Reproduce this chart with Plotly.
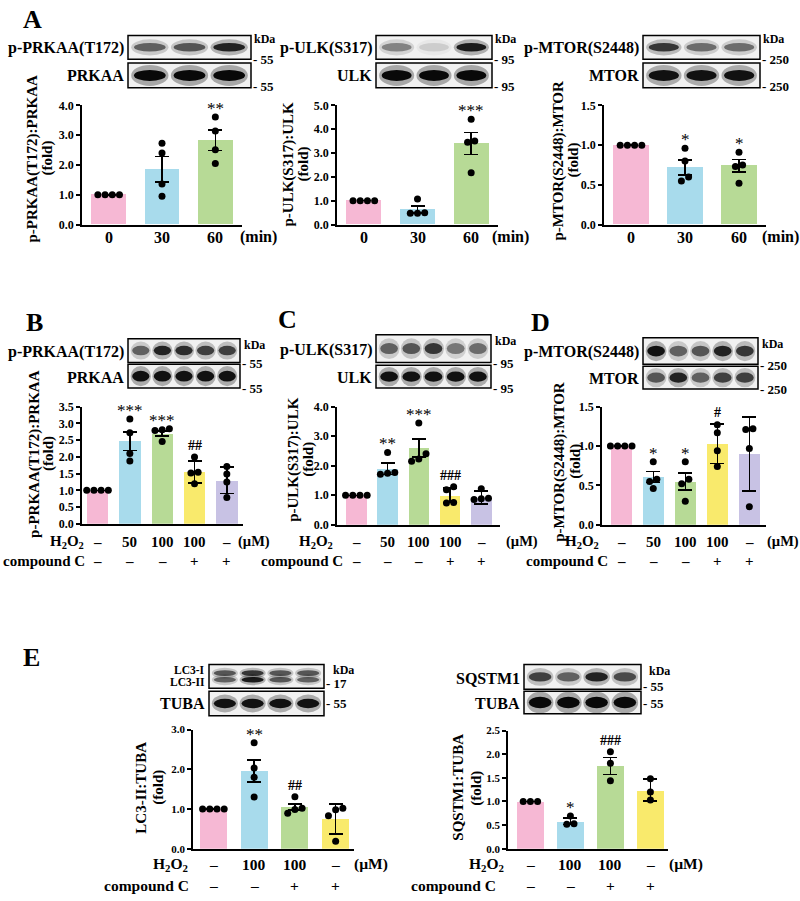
import plotly.graph_objects as go

# ---------------- data ----------------
time_labels = ["0", "30", "60"]
h2o2_BCD = ["–", "50", "100", "100", "–"]
compc_BCD = ["–", "–", "–", "+", "+"]
h2o2_E = ["–", "100", "100", "–"]
compc_E = ["–", "–", "+", "+"]

A1_bar = [1.00, 1.86, 2.83]
A1_err = [0.00, 0.43, 0.34]
A1_pts = [[1.0, 1.0, 1.0, 1.0], [2.73, 2.40, 1.36, 0.95], [3.61, 3.14, 2.51, 2.05]]
A1_sig = ["", "", "**"]

A2_bar = [1.00, 0.63, 3.40]
A2_err = [0.00, 0.14, 0.46]
A2_pts = [[1.0, 1.0, 1.0, 1.0], [1.07, 0.50, 0.48, 0.47], [4.42, 3.51, 3.46, 2.18]]
A2_sig = ["", "", "***"]

A3_bar = [1.00, 0.72, 0.74]
A3_err = [0.00, 0.095, 0.08]
A3_pts = [[1.0, 1.0, 1.0, 1.0], [0.96, 0.80, 0.60, 0.55], [0.91, 0.75, 0.73, 0.52]]
A3_sig = ["", "*", "*"]

B_bar = [1.00, 2.47, 2.70, 1.55, 1.30]
B_err = [0.00, 0.28, 0.08, 0.33, 0.40]
B_pts = [[1.0, 1.0, 1.0, 1.0], [3.13, 2.72, 2.10, 1.88], [2.84, 2.81, 2.79, 2.46],
         [2.00, 1.54, 1.52, 1.20], [1.71, 1.49, 1.25, 0.79]]
B_sig = ["", "***", "***", "##", ""]

C_bar = [1.00, 1.90, 2.60, 1.00, 0.93]
C_err = [0.00, 0.20, 0.31, 0.25, 0.22]
C_pts = [[1.0, 1.0, 1.0, 1.0], [2.45, 1.77, 1.75, 1.71], [3.45, 2.41, 2.23, 2.15],
         [1.29, 1.19, 0.76, 0.74], [1.22, 0.90, 0.88, 0.86]]
C_sig = ["", "**", "***", "###", ""]

D_bar = [1.00, 0.61, 0.55, 1.03, 0.90]
D_err = [0.00, 0.07, 0.11, 0.25, 0.47]
D_pts = [[1.0, 1.0, 1.0, 1.0], [0.80, 0.58, 0.55, 0.46], [0.80, 0.58, 0.52, 0.30],
         [1.27, 1.17, 0.94, 0.74], [1.22, 1.21, 0.97, 0.23]]
D_sig = ["", "*", "*", "#", ""]

E1_bar = [1.00, 1.96, 1.05, 0.75]
E1_err = [0.00, 0.28, 0.08, 0.38]
E1_pts = [[1.0, 1.0, 1.0, 1.0], [2.67, 2.03, 1.80, 1.30], [1.31, 1.02, 0.99, 0.89],
          [0.98, 0.83, 1.02, 0.19]]
E1_sig = ["", "**", "##", ""]

E2_bar = [1.00, 0.58, 1.75, 1.24]
E2_err = [0.00, 0.07, 0.18, 0.23]
E2_pts = [[1.0, 1.0, 1.0], [0.69, 0.52, 0.53], [2.05, 1.81, 1.44], [1.48, 1.20, 1.03]]
E2_sig = ["", "*", "###", ""]

# blot band intensities (0 = no band, 1 = saturated)
A1_blot = [[0.55, 0.60, 0.85], [1.0, 1.0, 1.0]]
A2_blot = [[0.40, 0.12, 0.90], [1.0, 1.0, 1.0]]
A3_blot = [[0.75, 0.50, 0.50], [0.95, 0.95, 0.95]]
B_blot = [[0.55, 0.85, 0.80, 0.70, 0.70], [0.95, 0.95, 0.95, 0.95, 0.95]]
C_blot = [[0.55, 0.60, 0.75, 0.45, 0.50], [0.95, 0.95, 0.95, 0.95, 0.95]]
D_blot = [[0.95, 0.55, 0.60, 0.85, 0.75], [0.60, 0.85, 0.55, 0.70, 0.70]]
E1_blot_I = [0.60, 0.75, 0.60, 0.60]
E1_blot_II = [0.55, 0.90, 0.60, 0.55]
E1_blot_T = [0.95, 0.95, 0.95, 0.95]
E2_blot = [[0.70, 0.55, 0.85, 0.65], [1.0, 1.0, 1.0, 1.0]]

COLORS = ["#F6B8D4", "#A8DBEC", "#B7DA96", "#F9EA6C", "#C8C2E4"]

# ---------------- layout helpers ----------------
W, H = 800, 901
FONT = "Liberation Serif"


def px(x):
    return x / W


def py(y):
    return 1 - y / H


fig = go.Figure()
annotations = []
shapes = []


def text(x, y, s, size=15, xanchor="center", yanchor="middle", angle=0):
    annotations.append(dict(x=px(x), y=py(y), xref="paper", yref="paper", text=s,
                            showarrow=False, xanchor=xanchor, yanchor=yanchor,
                            textangle=angle, borderpad=0,
                            font=dict(family=FONT, size=size, color="black", weight=700)))


def swarm(vals, ppu_y, ppu_x, sp):
    order = sorted(range(len(vals)), key=lambda i: vals[i])
    clusters, cur = [], [order[0]]
    for i in order[1:]:
        if abs(vals[i] - vals[cur[-1]]) * ppu_y < sp:
            cur.append(i)
        else:
            clusters.append(cur)
            cur = [i]
    clusters.append(cur)
    offs = [0.0] * len(vals)
    for c in clusters:
        k = len(c)
        for j, i in enumerate(c):
            offs[i] = (j - (k - 1) / 2) * sp / ppu_x
    return offs


def chart(n, box, xr, ymax, dtick, bars, err, pts, sig, colors, barw=0.66, tick_size=12):
    x0, x1, yt, yb = box
    xa, ya = ("xaxis%d" % n if n > 1 else "xaxis"), ("yaxis%d" % n if n > 1 else "yaxis")
    xref, yref = ("x%d" % n if n > 1 else "x"), ("y%d" % n if n > 1 else "y")
    cats = list(range(len(bars)))
    fig.add_trace(go.Bar(x=cats, y=bars, width=barw, marker=dict(color=colors[:len(bars)], line=dict(width=0)),
                         error_y=dict(type="data", array=err, symmetric=True, color="black",
                                      thickness=1.5, width=7),
                         xaxis=xref, yaxis=yref, showlegend=False, hoverinfo="skip"))
    ppu_y = (yb - yt) / ymax
    ppu_x = (x1 - x0) / (xr[1] - xr[0])
    xs, ys = [], []
    for c, vals in zip(cats, pts):
        offs = swarm(vals, ppu_y, ppu_x, 7.2)
        for v, o in zip(vals, offs):
            xs.append(c + o)
            ys.append(v)
    fig.add_trace(go.Scatter(x=xs, y=ys, mode="markers", marker=dict(color="black", size=7),
                             xaxis=xref, yaxis=yref, showlegend=False, cliponaxis=False,
                             hoverinfo="skip"))
    for c in cats:
        if sig[c]:
            top = max(max(pts[c]), bars[c] + err[c])
            star = sig[c][0] == "*"
            annotations.append(dict(x=c, y=top, xref=xref, yref=yref, text=sig[c], showarrow=False,
                                    yanchor="bottom", yshift=-2 if star else 3, borderpad=0,
                                    font=dict(family=FONT, size=17 if star else 14, color="black",
                                              weight=400 if star else 700)))
    fig.update_layout({
        xa: dict(domain=[px(x0), px(x1)], range=list(xr), anchor=yref, showline=True,
                 linecolor="black", linewidth=1.5, ticks="", showticklabels=False,
                 showgrid=False, zeroline=False, fixedrange=True),
        ya: dict(domain=[py(yb), py(yt)], range=[0, ymax], anchor=xref, showline=True,
                 linecolor="black", linewidth=1.5, ticks="outside", ticklen=4, tickwidth=1.5,
                 tickcolor="black", dtick=dtick, tick0=0, tickformat=".1f", showgrid=False,
                 zeroline=False, tickfont=dict(family=FONT, size=tick_size, color="black", weight=700),
                 fixedrange=True),
    })
    return xref


def cat_labels(xref, labels, y, size=15):
    for c, s in enumerate(labels):
        annotations.append(dict(x=c, y=py(y), xref=xref, yref="paper", text=s, showarrow=False,
                                xanchor="center", yanchor="middle", borderpad=0,
                                font=dict(family=FONT, size=size, color="black", weight=700)))


def blot_box(x0, x1, y0, y1, rows):
    """rows: list of (intensities, yfrac, hfrac)"""
    shapes.append(dict(type="rect", xref="paper", yref="paper", x0=px(x0), x1=px(x1),
                       y0=py(y1), y1=py(y0), fillcolor="#f1f1f1", line=dict(width=0), layer="above"))
    for intens, yf, hf in rows:
        n = len(intens)
        lw = (x1 - x0 - 4) / n
        yc = y0 + (y1 - y0) * yf
        hh = (y1 - y0) * hf
        for i, v in enumerate(intens):
            xc = x0 + 2 + lw * (i + 0.5)
            shapes.append(dict(type="circle", xref="paper", yref="paper",
                               x0=px(xc - lw * 0.47), x1=px(xc + lw * 0.47),
                               y0=py(yc + hh * 0.95), y1=py(yc - hh * 0.95),
                               fillcolor="black", opacity=0.30 * v, line=dict(width=0), layer="above"))
            shapes.append(dict(type="circle", xref="paper", yref="paper",
                               x0=px(xc - lw * 0.40), x1=px(xc + lw * 0.40),
                               y0=py(yc + hh * 0.5), y1=py(yc - hh * 0.5),
                               fillcolor="black", opacity=min(1.0, 0.95 * v), line=dict(width=0),
                               layer="above"))
    shapes.append(dict(type="rect", xref="paper", yref="paper", x0=px(x0), x1=px(x1),
                       y0=py(y1), y1=py(y0), fillcolor="rgba(0,0,0,0)",
                       line=dict(color="black", width=1.5), layer="above"))


# ---------------- panel A ----------------
text(32, 13, "A", size=26)
for (n, box, ymax, dt, bars, err, pts, sig, ylab, lx, ly, bl, blab, mw, blx, minx) in [
    (1, (82, 242, 100, 221), 4.0, 1.0, A1_bar, A1_err, A1_pts, A1_sig, "p-PRKAA(T172):PRKAA", (33, 48), 154,
     A1_blot, ("p-PRKAA(T172)", "PRKAA"), "55", (128, 251), 239),
    (2, (337, 498, 100, 221), 5.0, 1.0, A2_bar, A2_err, A2_pts, A2_sig, "p-ULK(S317):ULK", (289, 304), 160,
     A2_blot, ("p-ULK(S317)", "ULK"), "95", (376, 492), 491),
    (3, (604, 766, 100, 221), 1.5, 0.5, A3_bar, A3_err, A3_pts, A3_sig, "p-MTOR(S2448):MTOR", (559, 574), 156,
     A3_blot, ("p-MTOR(S2448)", "MTOR"), "250", (643, 760), 761),
]:
    xr = chart(n, box, (-0.5, 2.5), ymax, dt, bars, err, pts, sig, COLORS, barw=0.65)
    cat_labels(xr, time_labels, 234, size=16)
    text(minx, 234, "(min)", size=16, xanchor="left")
    text(lx[0], ly, ylab, size=15, angle=-90)
    text(lx[1], ly, "(fold)", size=15, angle=-90)
    bx0, bx1 = blx
    blot_box(bx0, bx1, 29, 53, [(bl[0], 0.5, 0.36)])
    blot_box(bx0, bx1, 57, 82, [(bl[1], 0.5, 0.45)])
    text(bx0 - 3, 42, blab[0], size=16, xanchor="right")
    text(bx0 - 3, 70, blab[1], size=16, xanchor="right")
    text(bx1 + 2, 33, "kDa", size=12, xanchor="left")
    text(bx1 + 1, 53, "- " + mw, size=13, xanchor="left")
    text(bx1 + 1, 81, "- " + mw, size=13, xanchor="left")

# ---------------- panels B, C, D ----------------
for (n, letter, lpos, box, xrng, ymax, dt, bars, err, pts, sig, ylab, lx, ly, bl, blab, mw, blx, bly,
     h2r, ccr, umx) in [
    (4, "B", (34, 320), (82, 243, 406, 525), (-0.48, 4.5), 3.5, 0.5, B_bar, B_err, B_pts, B_sig,
     "p-PRKAA(T172):PRKAA", (35, 49), 454, B_blot, ("p-PRKAA(T172)", "PRKAA"), "55", (128, 240),
     ((337, 361), (363, 387)), 85, 86, 237),
    (5, "C", (287, 317), (337, 500, 406, 526), (-0.62, 4.6), 4.0, 1.0, C_bar, C_err, C_pts, C_sig,
     "p-ULK(S317):ULK", (294, 309), 460, C_blot, ("p-ULK(S317)", "ULK"), "95", (376, 491),
     ((333, 361), (364, 387)), 334, 344, 505),
    (6, "D", (540, 320), (602, 766, 406, 526), (-0.6, 4.52), 1.5, 0.5, D_bar, D_err, D_pts, D_sig,
     "p-MTOR(S2448):MTOR", (560, 576), 462, D_blot, ("p-MTOR(S2448)", "MTOR"), "250", (643, 758),
     ((336, 363), (365, 388)), 600, 609, 766),
]:
    text(lpos[0], lpos[1], letter, size=26)
    xr = chart(n, box, xrng, ymax, dt, bars, err, pts, sig, COLORS, barw=0.66)
    cat_labels(xr, h2o2_BCD, 543, size=15)
    cat_labels(xr, compc_BCD, 563, size=15)
    text(h2r, 543, "H<sub>2</sub>O<sub>2</sub>", size=15, xanchor="right")
    text(ccr, 563, "compound C", size=15, xanchor="right")
    text(umx, 543, "(µM)", size=14.5, xanchor="left")
    text(lx[0], ly, ylab, size=15, angle=-90)
    text(lx[1], ly, "(fold)", size=15, angle=-90)
    bx0, bx1 = blx
    (t0, t1), (b0, b1) = bly
    blot_box(bx0, bx1, t0, t1, [(bl[0], 0.5, 0.4)])
    blot_box(bx0, bx1, b0, b1, [(bl[1], 0.5, 0.45)])
    text(bx0 - 3, (t0 + t1) / 2 + 1, blab[0], size=16, xanchor="right")
    text(bx0 - 3, (b0 + b1) / 2 + 1, blab[1], size=16, xanchor="right")
    text(bx1 + 3, t0 + 6, "kDa", size=12, xanchor="left")
    text(bx1 + 1, t1 + 1, "- " + mw, size=13, xanchor="left")
    text(bx1 + 1, b1 + 1, "- " + mw, size=13, xanchor="left")

# ---------------- panel E ----------------
text(31, 661, "E", size=26)
xr = chart(7, (193, 354, 734, 855), (-0.5, 3.45), 3.0, 1.0, E1_bar, E1_err, E1_pts, E1_sig, COLORS,
           barw=0.66, tick_size=11)
cat_labels(xr, h2o2_E, 871, size=15.5)
cat_labels(xr, compc_E, 892, size=15.5)
text(189, 871, "H<sub>2</sub>O<sub>2</sub>", size=15.5, xanchor="right")
text(190, 892, "compound C", size=15.5, xanchor="right")
text(353, 871, "(µM)", size=15.5, xanchor="left")
text(141, 793, "LC3-II:TUBA", size=15, angle=-90)
text(159, 793, "(fold)", size=15, angle=-90)
blot_box(209, 324, 668, 692, [(E1_blot_I, 0.36, 0.24), (E1_blot_II, 0.64, 0.24)])
blot_box(209, 324, 695, 720, [(E1_blot_T, 0.5, 0.38)])
text(206, 673, "LC3-I", size=11.5, xanchor="right")
text(206, 686, "LC3-II", size=11.5, xanchor="right")
text(206, 708, "TUBA", size=16, xanchor="right")
text(332, 673, "kDa", size=12, xanchor="left")
text(325, 687, "- 17", size=13, xanchor="left")
text(325, 708, "- 55", size=13, xanchor="left")

xr = chart(8, (508, 668, 735, 855), (-0.56, 3.44), 2.5, 0.5, E2_bar, E2_err, E2_pts, E2_sig, COLORS,
           barw=0.66, tick_size=11)
cat_labels(xr, h2o2_E, 871, size=15.5)
cat_labels(xr, compc_E, 892, size=15.5)
text(505, 871, "H<sub>2</sub>O<sub>2</sub>", size=15.5, xanchor="right")
text(497, 892, "compound C", size=15.5, xanchor="right")
text(668, 871, "(µM)", size=15.5, xanchor="left")
text(458, 793, "SQSTM1:TUBA", size=15, angle=-90)
text(477, 793, "(fold)", size=15, angle=-90)
blot_box(524, 641, 668, 693, [(E2_blot[0], 0.5, 0.38)])
blot_box(524, 641, 695, 718, [(E2_blot[1], 0.5, 0.5)])
text(521, 682, "SQSTM1", size=16, xanchor="right")
text(521, 707, "TUBA", size=16, xanchor="right")
text(648, 674, "kDa", size=12, xanchor="left")
text(642, 690, "- 55", size=13, xanchor="left")
text(642, 708, "- 55", size=13, xanchor="left")

fig.update_layout(width=W, height=H, autosize=False, margin=dict(l=0, r=0, t=0, b=0),
                  paper_bgcolor="white", plot_bgcolor="white", annotations=annotations,
                  shapes=shapes, bargap=0, font=dict(family=FONT, color="black"))
fig.write_html("out.html", config={"displayModeBar": False},
               post_script="document.body.style.margin='0px';document.body.style.overflow='hidden';")
